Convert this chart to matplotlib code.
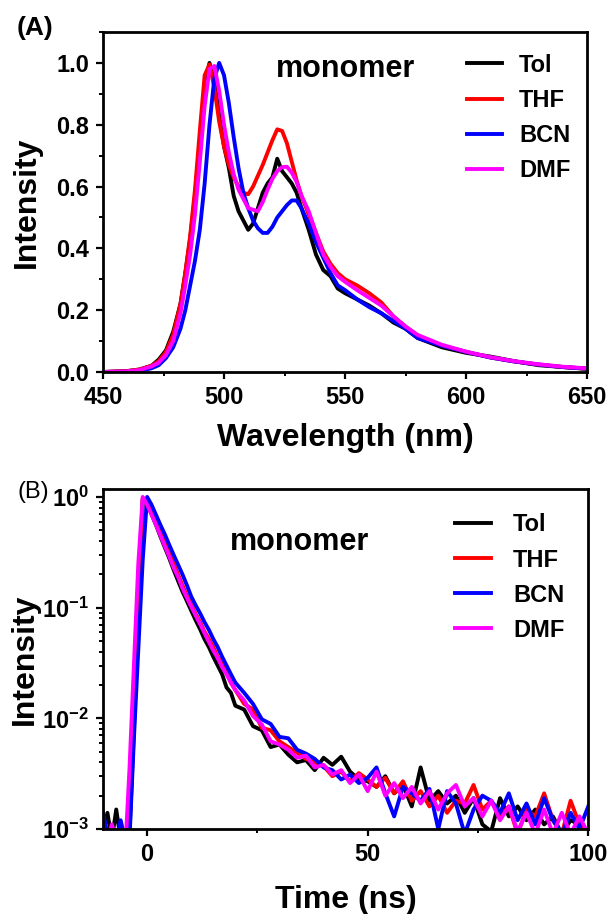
import numpy as np
import matplotlib
matplotlib.use("Agg")
import matplotlib.pyplot as plt
from matplotlib.ticker import MultipleLocator, FixedLocator, FuncFormatter, LogLocator, NullFormatter

plt.rcParams['font.family'] = ['Liberation Sans', 'DejaVu Sans']
plt.rcParams['font.weight'] = 'bold'
plt.rcParams['axes.labelweight'] = 'bold'
plt.rcParams['mathtext.fontset'] = 'custom'
plt.rcParams['mathtext.rm'] = 'Liberation Sans:bold'
plt.rcParams['mathtext.bf'] = 'Liberation Sans:bold'
plt.rcParams['mathtext.it'] = 'Liberation Sans:bold'

solvents = ["Tol", "THF", "BCN", "DMF"]
colors = ["black", "#ff0000", "#0000ff", "#ff00ff"]

# (A) steady-state emission, normalised
wavelength = [450, 460, 465, 470, 473, 476, 479, 482, 484, 486, 488, 490, 492, 494,
              496, 498, 500, 502, 504, 506, 508, 510, 512, 514, 516, 518, 520, 522,
              524, 526, 528, 530, 532, 535, 538, 541, 544, 547, 550, 555, 560, 565,
              570, 575, 580, 590, 600, 610, 620, 630, 640, 650]
pl_tol = [0.0, 0.003, 0.008, 0.02, 0.04, 0.07, 0.13, 0.22, 0.32, 0.43, 0.57, 0.74, 0.93, 1.0,
          0.94, 0.83, 0.73, 0.66, 0.57, 0.52, 0.49, 0.46, 0.48, 0.53, 0.58, 0.61, 0.63, 0.69,
          0.65, 0.63, 0.61, 0.58, 0.53, 0.46, 0.38, 0.33, 0.31, 0.27, 0.255, 0.235, 0.215, 0.19,
          0.16, 0.14, 0.11, 0.08, 0.062, 0.05, 0.035, 0.022, 0.016, 0.01]
pl_thf = [0.0, 0.003, 0.008, 0.02, 0.035, 0.065, 0.12, 0.22, 0.32, 0.44, 0.59, 0.78, 0.96, 0.995,
          0.92, 0.81, 0.73, 0.67, 0.63, 0.6, 0.58, 0.575, 0.6, 0.635, 0.67, 0.71, 0.75, 0.785,
          0.78, 0.74, 0.68, 0.62, 0.57, 0.51, 0.45, 0.39, 0.35, 0.32, 0.30, 0.28, 0.255, 0.225,
          0.18, 0.147, 0.118, 0.086, 0.065, 0.047, 0.034, 0.024, 0.016, 0.011]
pl_bcn = [0.0, 0.001, 0.004, 0.012, 0.022, 0.045, 0.08, 0.14, 0.2, 0.28, 0.36, 0.46, 0.61, 0.8,
          0.95, 1.0, 0.96, 0.87, 0.76, 0.66, 0.58, 0.53, 0.49, 0.465, 0.45, 0.45, 0.47, 0.5,
          0.52, 0.54, 0.555, 0.555, 0.53, 0.48, 0.42, 0.37, 0.32, 0.28, 0.265, 0.235, 0.21, 0.19,
          0.165, 0.14, 0.11, 0.085, 0.065, 0.047, 0.034, 0.024, 0.016, 0.011]
pl_dmf = [0.0, 0.002, 0.006, 0.018, 0.03, 0.055, 0.1, 0.19, 0.28, 0.38, 0.51, 0.68, 0.86, 0.98,
          0.99, 0.91, 0.8, 0.71, 0.64, 0.59, 0.56, 0.53, 0.525, 0.52, 0.55, 0.59, 0.625, 0.65,
          0.663, 0.664, 0.645, 0.615, 0.57, 0.52, 0.45, 0.38, 0.34, 0.31, 0.292, 0.265, 0.24, 0.215,
          0.18, 0.147, 0.12, 0.088, 0.066, 0.048, 0.035, 0.025, 0.017, 0.012]

# (B) fluorescence decay
time_ns = np.r_[np.arange(-10, 20), np.arange(20, 101, 2)]
tr_tol = [0.0009, 0.0014, 0.0008, 0.0015, 0.0008, 0.0007, 0.0009, 0.008, 0.07, 0.95,
          0.88, 0.7, 0.56, 0.44, 0.35, 0.28, 0.22, 0.175, 0.14, 0.115,
          0.094, 0.077, 0.064, 0.052, 0.044, 0.036, 0.030, 0.025, 0.019, 0.017,
          0.013, 0.012, 0.0085, 0.0078, 0.0055, 0.0058, 0.0047, 0.0040, 0.0042, 0.0034,
          0.0044, 0.0038, 0.0045, 0.0033, 0.0028, 0.0027, 0.0024, 0.0030, 0.0021, 0.0025,
          0.0016, 0.0036, 0.0018, 0.0022, 0.0017, 0.0020, 0.0014, 0.0019, 0.0011, 0.00095,
          0.0019, 0.0013, 0.0016, 0.0012, 0.0015, 0.0011, 0.0013, 0.0009, 0.0012, 0.0011, 0.0009]
tr_thf = [0.0008, 0.0007, 0.0009, 0.0007, 0.0008, 0.0007, 0.0012, 0.012, 0.11, 0.98,
          0.92, 0.76, 0.61, 0.49, 0.39, 0.315, 0.25, 0.2, 0.16, 0.128,
          0.106, 0.088, 0.074, 0.061, 0.052, 0.044, 0.036, 0.031, 0.026, 0.021,
          0.018, 0.0135, 0.012, 0.0082, 0.0078, 0.0062, 0.0055, 0.0049, 0.0043, 0.0040,
          0.0037, 0.0030, 0.0033, 0.0027, 0.0032, 0.0028, 0.0024, 0.0029, 0.0021, 0.0027,
          0.0018, 0.0022, 0.0016, 0.0020, 0.0014, 0.0018, 0.0017, 0.0025, 0.0015, 0.0018,
          0.0013, 0.0016, 0.0009, 0.0015, 0.0013, 0.0021, 0.0012, 0.0009, 0.0018, 0.0011, 0.0009]
tr_bcn = [0.0014, 0.0009, 0.0007, 0.0008, 0.0012, 0.0008, 0.0008, 0.0065, 0.042, 0.27,
          1.0, 0.85, 0.69, 0.56, 0.46, 0.37, 0.30, 0.245, 0.2, 0.16,
          0.126, 0.105, 0.089, 0.074, 0.063, 0.052, 0.044, 0.036, 0.03, 0.025,
          0.021, 0.017, 0.0135, 0.0098, 0.0089, 0.0068, 0.0066, 0.0052, 0.0048, 0.0043,
          0.0036, 0.0034, 0.0028, 0.0031, 0.0026, 0.0029, 0.0036, 0.0021, 0.0013, 0.0024,
          0.0021, 0.0018, 0.0023, 0.0010, 0.0022, 0.0017, 0.0009, 0.0015, 0.0020, 0.0018,
          0.0014, 0.0021, 0.0012, 0.0017, 0.0011, 0.0019, 0.0012, 0.0009, 0.0014, 0.0010, 0.0016]
tr_dmf = [0.0007, 0.0008, 0.0011, 0.0008, 0.0007, 0.0006, 0.0035, 0.03, 0.25, 1.0,
          0.85, 0.69, 0.56, 0.45, 0.36, 0.29, 0.23, 0.19, 0.15, 0.123,
          0.102, 0.085, 0.071, 0.059, 0.049, 0.041, 0.035, 0.029, 0.025, 0.021,
          0.018, 0.0145, 0.0105, 0.0088, 0.0062, 0.0058, 0.0052, 0.0044, 0.0046, 0.0036,
          0.0038, 0.0031, 0.0034, 0.0026, 0.0031, 0.0022, 0.0033, 0.002, 0.0026, 0.0019,
          0.0024, 0.0017, 0.0022, 0.0015, 0.0021, 0.0025, 0.0016, 0.0019, 0.0013, 0.0018,
          0.0012, 0.0016, 0.00095, 0.0014, 0.0009, 0.0015, 0.0009, 0.0014, 0.0009, 0.0013, 0.0009]

fig = plt.figure(figsize=(6.15, 9.14), dpi=100)
ax1 = fig.add_axes([0.1675, 0.593, 0.787, 0.372])
ax2 = fig.add_axes([0.1675, 0.093, 0.789, 0.372])

for ys, c, name in zip([pl_tol, pl_thf, pl_bcn, pl_dmf], colors, solvents):
    ax1.plot(wavelength, ys, color=c, lw=2.8, label=name)
for ys, c, name in zip([tr_tol, tr_thf, tr_bcn, tr_dmf], colors, solvents):
    ax2.plot(time_ns, ys, color=c, lw=2.8, label=name)

ax1.set_xlim(450, 650)
ax1.set_ylim(0, 1.1)
ax1.xaxis.set_major_locator(MultipleLocator(50))
ax1.xaxis.set_minor_locator(MultipleLocator(25))
ax1.yaxis.set_major_locator(FixedLocator([0, 0.2, 0.4, 0.6, 0.8, 1.0]))
ax1.yaxis.set_minor_locator(MultipleLocator(0.1))
ax1.yaxis.set_major_formatter(FuncFormatter(lambda v, p: "%.1f" % v))
ax1.set_xlabel("Wavelength (nm)", fontsize=23, labelpad=10)
ax1.set_ylabel("Intensity", fontsize=23, labelpad=10)

ax2.set_yscale("log")
ax2.set_xlim(-10, 100)
ax2.set_ylim(1e-3, 1.18)
ax2.xaxis.set_major_locator(FixedLocator([0, 50, 100]))
ax2.xaxis.set_minor_locator(FixedLocator([25, 75]))
ax2.yaxis.set_major_locator(FixedLocator([1e-3, 1e-2, 1e-1, 1e0]))
ax2.yaxis.set_minor_locator(LogLocator(base=10, subs=np.arange(2, 10)))
ax2.yaxis.set_minor_formatter(NullFormatter())
ax2.yaxis.set_major_formatter(FuncFormatter(lambda v, p: r"$\mathbf{10^{%d}}$" % round(np.log10(v))))
ax2.set_xlabel("Time (ns)", fontsize=23, labelpad=14)
ax2.set_ylabel("Intensity", fontsize=23, labelpad=2)

for ax in (ax1, ax2):
    for s in ax.spines.values():
        s.set_linewidth(2)
    ax.tick_params(which="major", direction="out", length=5, width=1.6, labelsize=17, pad=5)
    ax.tick_params(which="minor", direction="out", length=3, width=1.4)

ax1.text(0.5, 0.89, "monomer", transform=ax1.transAxes, fontsize=22, ha="center", va="center")
ax2.text(0.405, 0.845, "monomer", transform=ax2.transAxes, fontsize=22, ha="center", va="center")

ax1.legend(loc="upper left", bbox_to_anchor=(0.752, 0.936), frameon=False, fontsize=17,
           handlelength=1.5, handletextpad=0.7, labelspacing=0.51, borderpad=0, borderaxespad=0)
ax2.legend(loc="upper left", bbox_to_anchor=(0.726, 0.928), frameon=False, fontsize=17,
           handlelength=1.5, handletextpad=0.95, labelspacing=0.51, borderpad=0, borderaxespad=0)

fig.text(0.057, 0.969, "(A)", fontsize=19, ha="center", va="center")
fig.text(0.054, 0.462, "(B)", fontsize=17, fontweight="normal", ha="center", va="center")

plt.savefig("out.png", dpi=100)
plt.close()
